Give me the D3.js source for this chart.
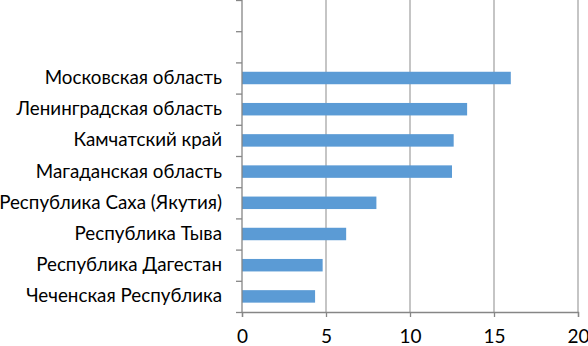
<!DOCTYPE html>
<html>
<head>
<meta charset="utf-8">
<script src="https://cdn.jsdelivr.net/npm/d3@7"></script>
<style>
  body { margin: 0; background: #fff; }
  svg text { font-family: Lato, "Open Sans", sans-serif; fill: #000; }
</style>
</head>
<body>
<script>
const WIDTH  = 588;
const HEIGHT = 346;

// данные (сверху вниз; две пустые категории сверху)
const regions = ["", "", "Московская область", "Ленинградская область", "Камчатский край",
                 "Магаданская область", "Республика Саха (Якутия)", "Республика Тыва",
                 "Республика Дагестан", "Чеченская Республика"];
const values  = [null, null, 16.0, 13.4, 12.6, 12.5, 8.0, 6.2, 4.8, 4.35];
const xTicks  = [0, 5, 10, 15, 20];

const margin = { top: 0, right: 10, bottom: 34, left: 242 };
const w = 578 - margin.left;
const h = 312 - margin.top;

let svg = d3.select('body').append('svg')
            .attr('width', WIDTH)
            .attr('height', HEIGHT);

let g = svg.append('g').attr('transform', `translate(${margin.left},${margin.top})`);

let x = d3.scaleLinear().domain([0, 20]).range([0, w]);
let y = d3.scaleBand().domain(d3.range(regions.length)).range([0, h]).paddingInner(0.6).paddingOuter(0.3);
let yEdges = d3.scaleLinear().domain([0, regions.length]).range([0, h]);

// сетка
g.selectAll('.grid')
  .data(xTicks.slice(1))
  .enter().append('line')
    .attr('x1', d => x(d)).attr('x2', d => x(d))
    .attr('y1', 0).attr('y2', h)
    .style('stroke', '#a6a6a6')
    .style('stroke-width', 1.3);

// столбики
g.selectAll('.bar')
  .data(values.map((v, i) => ({ v, i })).filter(d => d.v !== null))
  .enter().append('rect')
    .attr('x', x(0))
    .attr('y', d => y(d.i))
    .attr('width', d => x(d.v) - x(0))
    .attr('height', y.bandwidth())
    .style('fill', '#5b9bd5');

// ось X
let xAxis = g.append('g')
  .attr('transform', `translate(0,${h})`)
  .call(d3.axisBottom(x).tickValues(xTicks).tickSize(5).tickPadding(13));
xAxis.select('.domain').style('stroke', '#868686').style('stroke-width', 1.3);
xAxis.selectAll('line').style('stroke', '#868686').style('stroke-width', 1.3);
xAxis.selectAll('text').style('font-size', '19px');

// ось Y: засечки между категориями
let yAxis = g.append('g')
  .call(d3.axisLeft(yEdges).ticks(regions.length).tickSize(6).tickFormat(''));
yAxis.select('.domain').remove();
yAxis.selectAll('line').style('stroke', '#868686').style('stroke-width', 1.3);
g.append('line')
  .attr('x1', 0).attr('x2', 0).attr('y1', 0).attr('y2', h)
  .style('stroke', '#868686').style('stroke-width', 1.3);

// подписи категорий
let yLabels = g.append('g')
  .call(d3.axisLeft(y).tickSize(0).tickPadding(20).tickFormat(i => regions[i]));
yLabels.select('.domain').remove();
yLabels.selectAll('text').style('font-size', '18.8px');
</script>
</body>
</html>
